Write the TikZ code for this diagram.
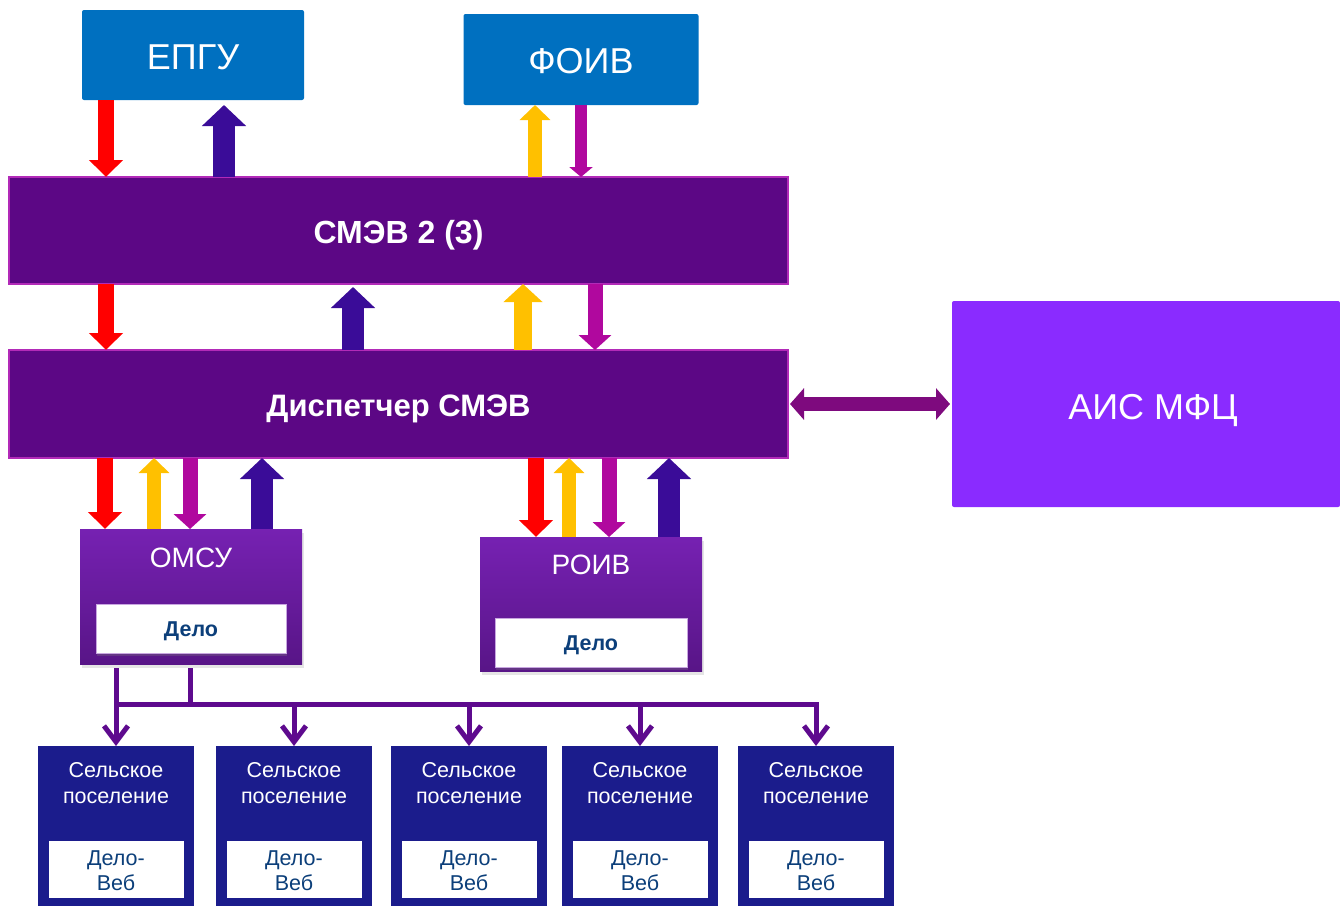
\documentclass[tikz,border=0pt]{standalone}
\usepackage{fontspec}
\setmainfont{Liberation Sans}
\usetikzlibrary{arrows.meta,shadows,calc}
\definecolor{blueTop}{HTML}{0070C0}
\definecolor{smev}{HTML}{5C0785}
\definecolor{smevedge}{HTML}{B22AB8}
\definecolor{ais}{HTML}{8A2BFF}
\definecolor{omsuTop}{HTML}{7621B2}
\definecolor{omsuBot}{HTML}{581587}
\definecolor{sel}{HTML}{1B1C8C}
\definecolor{delo}{HTML}{0C3F7A}
\definecolor{aRed}{HTML}{FF0000}
\definecolor{aYel}{HTML}{FFC000}
\definecolor{aMag}{HTML}{B0089E}
\definecolor{aPur}{HTML}{3A0C98}
\definecolor{aDbl}{HTML}{7E0A7E}
\definecolor{treec}{HTML}{5E0A8E}
\tikzset{
  every node/.style={inner sep=0pt, outer sep=0pt},
  topbox/.style={fill=blueTop, rounded corners=2pt, text=white, font=\fontsize{36}{40}\selectfont,
    text height=28pt, text depth=0pt},
  busbox/.style={fill=smev, draw=smevedge, line width=1.5pt, text=white,
    font=\bfseries\fontsize{32}{36}\selectfont, minimum width=779pt,
    text height=25pt, text depth=0pt},
  aisbox/.style={fill=ais, rounded corners=2pt, minimum width=388pt, minimum height=206pt},
  aistext/.style={text=white, font=\fontsize{36}{40}\selectfont, text height=28pt, text depth=0pt},
  orgbox/.style={top color=omsuTop, bottom color=omsuBot, minimum width=222pt,
    drop shadow={shadow xshift=1.5pt, shadow yshift=-4pt, opacity=0.2}},
  orgtitle/.style={text=white, font=\fontsize{28}{32}\selectfont},
  delobox/.style={fill=white, draw=omsuTop!40!white, line width=0.8pt, text=delo,
    font=\bfseries\fontsize{21.5}{24}\selectfont, minimum height=49pt,
    text height=16pt, text depth=0pt,
    drop shadow={shadow xshift=1pt, shadow yshift=-3pt, opacity=0.3}},
  selbox/.style={fill=sel, minimum width=156pt, minimum height=160pt},
  seltext/.style={text=white, align=center, font=\fontsize{21.5}{26}\selectfont},
  webbox/.style={fill=white, minimum width=135pt, minimum height=57pt},
  webtext/.style={text=delo, align=center, font=\fontsize{21.5}{25}\selectfont},
  barr/.style n args={4}{draw=#1, line width=#2, -{Triangle[width=#3,length=#4]}},
  redarr/.style={barr={aRed}{16pt}{33pt}{17pt}},
  yelarr/.style={barr={aYel}{14pt}{30pt}{15pt}},
  yelbig/.style={barr={aYel}{18pt}{38pt}{18pt}},
  magarr/.style={barr={aMag}{15pt}{32pt}{15pt}},
  magsm/.style={barr={aMag}{12pt}{23pt}{10pt}},
  purarr/.style={barr={aPur}{22pt}{43pt}{21pt}},
  treeline/.style={draw=treec, line width=5pt},
  treearr/.style={treeline, -{Straight Barb[length=16pt,width=24pt]}},
}
\begin{document}
\begin{tikzpicture}[x=1pt, y=-1pt]
\fill[white] (0,0) rectangle (1340,906);
\useasboundingbox (0,0) rectangle (1340,906);

% top boxes
\node[topbox, minimum width=222pt, minimum height=90pt] (epgu) at (193,55) {ЕПГУ};
\node[topbox, minimum width=235pt, minimum height=91pt] (foiv) at (581,59.5) {ФОИВ};

% buses
\node[busbox, minimum height=107pt] (smev) at (398.5,230.5) {СМЭВ 2 (3)};
\node[busbox, minimum height=108pt, font=\bfseries\fontsize{31}{36}\selectfont] (disp) at (398.5,404) {Диспетчер СМЭВ};

% AIS MFC
\node[aisbox] (ais) at (1146,404) {};
\node[aistext] (aist) at (1153,405) {АИС МФЦ};

% OMSU / ROIV
\node[orgbox, minimum height=135pt] (omsu) at (191,596.5) {};
\node[orgtitle] (omsut) at ([yshift=-29pt]omsu.north) {ОМСУ};
\node[delobox, minimum width=190pt] (omsud) at (191,628.5) {Дело};

\node[orgbox, minimum height=134pt] (roiv) at (591,604) {};
\node[orgtitle] (roivt) at ([yshift=-27.5pt]roiv.north) {РОИВ};
\node[delobox, minimum width=192pt] (roivd) at (591,642.5) {Дело};

% rural settlements
\foreach \i/\x in {1/116, 2/294, 3/469, 4/640, 5/816}{
  \node[selbox] (s\i) at (\x,826) {};
  \node[seltext] (s\i t) at (\x,783.5) {Сельское\\поселение};
  \node[webbox] (s\i w) at (\x,869.5) {};
  \node[webtext] (s\i x) at (\x,871) {Дело-\\Веб};
}

% arrows ЕПГУ / ФОИВ <-> СМЭВ
\draw[redarr] (106,0 |- epgu.south) -- (106,0 |- smev.north);
\draw[purarr, shorten >=5pt] (224,0 |- smev.north) -- (224,0 |- epgu.south);
\draw[yelarr] (535,0 |- smev.north) -- (535,0 |- foiv.south);
\draw[magsm] (581,0 |- foiv.south) -- (581,0 |- smev.north);

% СМЭВ <-> Диспетчер
\draw[redarr] (106,0 |- smev.south) -- (106,0 |- disp.north);
\draw[purarr, shorten >=3pt] (353,0 |- disp.north) -- (353,0 |- smev.south);
\draw[yelbig] (523,0 |- disp.north) -- (523,0 |- smev.south);
\draw[magarr] (595,0 |- smev.south) -- (595,0 |- disp.north);

% Диспетчер <-> ОМСУ
\draw[redarr] (105,0 |- disp.south) -- (105,0 |- omsu.north);
\draw[yelarr] (154,0 |- omsu.north) -- (154,0 |- disp.south);
\draw[magarr] (190,0 |- disp.south) -- (190,0 |- omsu.north);
\draw[purarr] (262,0 |- omsu.north) -- (262,0 |- disp.south);

% Диспетчер <-> РОИВ
\draw[redarr] (536,0 |- disp.south) -- (536,0 |- roiv.north);
\draw[yelarr] (569,0 |- roiv.north) -- (569,0 |- disp.south);
\draw[magarr] (609,0 |- disp.south) -- (609,0 |- roiv.north);
\draw[purarr] (669,0 |- roiv.north) -- (669,0 |- disp.south);

% Диспетчер <-> АИС МФЦ
\draw[draw=aDbl, line width=14pt,
  {Triangle[width=31pt,length=14pt]}-{Triangle[width=31pt,length=14pt]}]
  ([xshift=2pt]disp.east) -- ([xshift=-2pt]ais.west);

% tree to rural settlements
\coordinate (busL) at (116,704);
\coordinate (busR) at (816,704);
\draw[treeline] (190,0 |- omsu.south) ++(0,4) -- (190,704);
\draw[treeline, line cap=rect] (busL) -- (busR);
\draw[treearr] ([yshift=-4pt]s1.north |- omsu.south) -- (s1.north);
\foreach \i in {2,3,4,5}{
  \draw[treearr] (s\i.north |- busL) -- (s\i.north);
}
\end{tikzpicture}
\end{document}
